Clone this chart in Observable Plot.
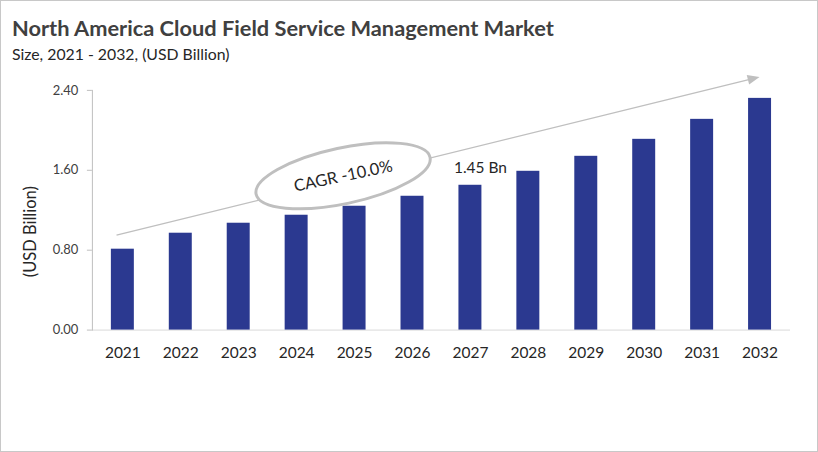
<!DOCTYPE html>
<html><head><meta charset="utf-8">
<script src="https://cdn.jsdelivr.net/npm/d3@7"></script>
<script src="https://cdn.jsdelivr.net/npm/@observablehq/plot@0.6"></script>
<style>
body{margin:0;background:#fff;font-family:Lato,sans-serif}
#frame{position:relative;width:818px;height:452px;box-sizing:border-box;border:1px solid #c8c8c8;overflow:hidden;background:#fff}
#chart{position:absolute;left:-1px;top:-1px}
#title{position:absolute;left:11px;top:13px;font-size:21.8px;font-weight:bold;color:#404040;white-space:nowrap}
#sub{position:absolute;left:11px;top:43px;font-size:15.8px;color:#262626;white-space:nowrap}
</style></head><body>
<div id="frame"><div id="chart"></div>
<div id="title">North America Cloud Field Service Management Market</div>
<div id="sub">Size, 2021 - 2032, (USD Billion)</div>
</div>
<script>
const years = ["2021","2022","2023","2024","2025","2026","2027","2028","2029","2030","2031","2032"];
const values = [0.81,0.97,1.07,1.15,1.24,1.34,1.45,1.59,1.74,1.91,2.11,2.32];
const yTicks = [0, 0.8, 1.6, 2.4];
const yLabel = "(USD Billion)";
const callout = [{year: "2027", value: 1.45, label: "1.45 Bn"}];
const trend = [{x1: "2021", y1: 0.96, x2: "2032", y2: 2.53}];
const cagr = [{year: "2025", value: 1.54, label: "CAGR -10.0%"}];

const data = years.map((year, i) => ({year, value: values[i]}));
const barColor = "#2B3990";
const gray = "#bfbfbf";

const plot = Plot.plot({
  width: 818, height: 452,
  marginTop: 90, marginBottom: 122, marginLeft: 92, marginRight: 27,
  style: {fontFamily: "Lato, sans-serif", background: "transparent", color: "#404040"},
  x: {domain: years, paddingInner: 0.6, paddingOuter: 0.3, label: null, axis: null},
  y: {domain: [0, 2.4], label: null, axis: null},
  marks: [
    Plot.ruleY([0], {stroke: "#d9d9d9"}),
    Plot.frame({anchor: "left", stroke: gray}),
    Plot.barY(data, {x: "year", y: "value", fill: barColor}),
    Plot.axisY(yTicks, {tickFormat: d3.format(".2f"), tickSize: 5, tickPadding: 9, stroke: gray, fill: "#404040", fontSize: 13, label: null}),
    Plot.axisX({tickSize: 0, tickPadding: 17, fill: "#262626", fontSize: 15.5, label: null}),
    Plot.text(callout, {x: "year", y: "value", text: "label", dy: -17, dx: 10, fontSize: 15.5, fill: "#262626"})
  ]
});
document.getElementById("chart").appendChild(plot);

const svg = d3.select(plot);
const xs = plot.scale("x"), ys = plot.scale("y");
const cx = v => xs.apply(v) + xs.bandwidth / 2;
// trend arrow
{
  const t = trend[0];
  const ax = cx(t.x1), ay = ys.apply(t.y1), bx = cx(t.x2), by = ys.apply(t.y2);
  const a = Math.atan2(by - ay, bx - ax);
  const sx = ax - 6 * Math.cos(a), sy = ay - 6 * Math.sin(a);
  svg.append("line").attr("x1", sx).attr("y1", sy).attr("x2", bx - 8 * Math.cos(a)).attr("y2", by - 8 * Math.sin(a))
    .attr("stroke", gray).attr("stroke-width", 1.3);
  svg.append("path").attr("d", "M0,0 L-12,-5 L-12,5 Z").attr("fill", gray)
    .attr("transform", `translate(${bx},${by}) rotate(${a * 180 / Math.PI})`);
}
// CAGR ellipse
{
  const c = cagr[0];
  const ex = cx(c.year) - 11, ey = ys.apply(c.value);
  const g = svg.append("g").attr("transform", `translate(${ex},${ey}) rotate(-12)`);
  g.append("ellipse").attr("rx", 89).attr("ry", 28).attr("fill", "#fff").attr("stroke", gray).attr("stroke-width", 3);
  g.append("text").attr("text-anchor", "middle").attr("dy", "0.35em").attr("font-size", 16.5).attr("fill", "#262626").text(c.label);
}
// y label
svg.append("text").attr("transform", "translate(36,232) rotate(-90)").attr("text-anchor", "middle")
  .attr("font-size", 16.5).attr("fill", "#262626").text(yLabel);
</script>
</body></html>
